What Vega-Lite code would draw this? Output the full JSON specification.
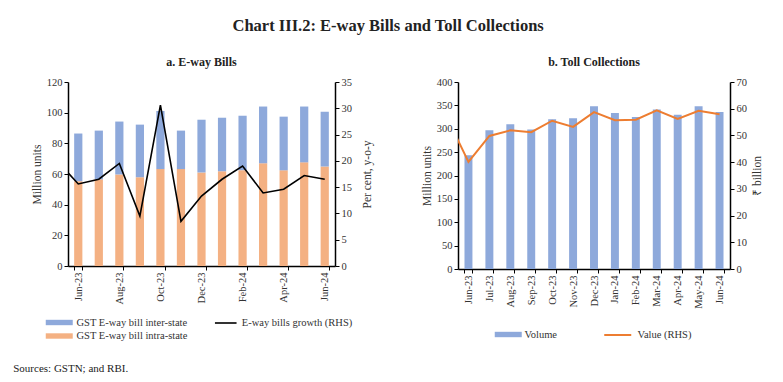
{
  "$schema": "https://vega.github.io/schema/vega-lite/v6.json",
  "padding": {"left": 13, "top": 17, "right": 10, "bottom": 2},
  "title": {"text": "Chart III.2: E-way Bills and Toll Collections", "fontSize": 16.5, "fontWeight": "bold", "font": "Liberation Serif", "color": "#222", "anchor": "middle", "offset": 22},
  "datasets": {
    "ewayBars": [
      {"month": "Jun-23", "series": "GST E-way bill intra-state", "value": 55.3},
      {"month": "Jun-23", "series": "GST E-way bill inter-state", "value": 31.1},
      {"month": "Jul-23", "series": "GST E-way bill intra-state", "value": 56.5},
      {"month": "Jul-23", "series": "GST E-way bill inter-state", "value": 31.8},
      {"month": "Aug-23", "series": "GST E-way bill intra-state", "value": 59.7},
      {"month": "Aug-23", "series": "GST E-way bill inter-state", "value": 34.5},
      {"month": "Sep-23", "series": "GST E-way bill intra-state", "value": 57.9},
      {"month": "Sep-23", "series": "GST E-way bill inter-state", "value": 34.3},
      {"month": "Oct-23", "series": "GST E-way bill intra-state", "value": 63.2},
      {"month": "Oct-23", "series": "GST E-way bill inter-state", "value": 37.9},
      {"month": "Nov-23", "series": "GST E-way bill intra-state", "value": 63.2},
      {"month": "Nov-23", "series": "GST E-way bill inter-state", "value": 25.1},
      {"month": "Dec-23", "series": "GST E-way bill intra-state", "value": 61.0},
      {"month": "Dec-23", "series": "GST E-way bill inter-state", "value": 34.4},
      {"month": "Jan-24", "series": "GST E-way bill intra-state", "value": 61.8},
      {"month": "Jan-24", "series": "GST E-way bill inter-state", "value": 34.9},
      {"month": "Feb-24", "series": "GST E-way bill intra-state", "value": 62.5},
      {"month": "Feb-24", "series": "GST E-way bill inter-state", "value": 35.5},
      {"month": "Mar-24", "series": "GST E-way bill intra-state", "value": 67.0},
      {"month": "Mar-24", "series": "GST E-way bill inter-state", "value": 37.0},
      {"month": "Apr-24", "series": "GST E-way bill intra-state", "value": 62.4},
      {"month": "Apr-24", "series": "GST E-way bill inter-state", "value": 35.0},
      {"month": "May-24", "series": "GST E-way bill intra-state", "value": 67.6},
      {"month": "May-24", "series": "GST E-way bill inter-state", "value": 36.4},
      {"month": "Jun-24", "series": "GST E-way bill intra-state", "value": 64.9},
      {"month": "Jun-24", "series": "GST E-way bill inter-state", "value": 35.7}
    ],
    "ewayGrowth": [
      {"month": "May-23", "growth": 19.9},
      {"month": "Jun-23", "growth": 15.6},
      {"month": "Jul-23", "growth": 16.5},
      {"month": "Aug-23", "growth": 19.5},
      {"month": "Sep-23", "growth": 9.5},
      {"month": "Oct-23", "growth": 30.6},
      {"month": "Nov-23", "growth": 8.5},
      {"month": "Dec-23", "growth": 13.3},
      {"month": "Jan-24", "growth": 16.5},
      {"month": "Feb-24", "growth": 19.0},
      {"month": "Mar-24", "growth": 13.9},
      {"month": "Apr-24", "growth": 14.6},
      {"month": "May-24", "growth": 17.2},
      {"month": "Jun-24", "growth": 16.5}
    ],
    "toll": [
      {"month": "May-23", "value": 56.3},
      {"month": "Jun-23", "volume": 243.4, "value": 40.1},
      {"month": "Jul-23", "volume": 296.8, "value": 49.8},
      {"month": "Aug-23", "volume": 309.6, "value": 51.9},
      {"month": "Sep-23", "volume": 298.2, "value": 51.2},
      {"month": "Oct-23", "volume": 320.3, "value": 55.5},
      {"month": "Nov-23", "volume": 322.4, "value": 53.2},
      {"month": "Dec-23", "volume": 348.0, "value": 58.7},
      {"month": "Jan-24", "volume": 333.8, "value": 55.7},
      {"month": "Feb-24", "volume": 325.3, "value": 55.9},
      {"month": "Mar-24", "volume": 341.0, "value": 59.4},
      {"month": "Apr-24", "volume": 330.2, "value": 56.2},
      {"month": "May-24", "volume": 348.0, "value": 59.2},
      {"month": "Jun-24", "volume": 336.0, "value": 57.9}
    ]
  },
  "vconcat": [
    {
      "title": {"text": "Sources: GSTN; and RBI.", "orient": "bottom", "anchor": "start", "fontSize": 11, "fontWeight": "normal", "color": "#222", "offset": 21, "dx": -18},
      "spacing": 48,
      "resolve": {"scale": {"fill": "independent", "stroke": "independent", "x": "independent", "y": "independent"}, "legend": {"fill": "independent", "stroke": "independent"}},
      "hconcat": [
        {
          "width": 267,
          "height": 184,
          "title": {"text": "a. E-way Bills", "fontSize": 12, "fontWeight": "bold", "color": "#222", "offset": 8},
          "layer": [
            {
              "data": {"name": "ewayBars"},
              "mark": {"type": "bar"},
              "encoding": {
                "x": {"field": "month", "type": "nominal", "sort": null,
                  "scale": {"domain": ["Jun-23","Jul-23","Aug-23","Sep-23","Oct-23","Nov-23","Dec-23","Jan-24","Feb-24","Mar-24","Apr-24","May-24","Jun-24"], "paddingInner": 0.6, "paddingOuter": 0.3, "round": false},
                  "axis": {"title": null, "values": ["Jun-23","Aug-23","Oct-23","Dec-23","Feb-24","Apr-24","Jun-24"], "labelAngle": -90, "tickBand": "extent"}},
                "y": {"field": "value", "type": "quantitative", "stack": "zero",
                  "scale": {"domain": [0, 120]},
                  "axis": {"title": "Million units", "values": [0,20,40,60,80,100,120]}},
                "fill": {"field": "series", "type": "nominal",
                  "scale": {"domain": ["GST E-way bill inter-state", "GST E-way bill intra-state"], "range": ["#8EA9DB", "#F4B183"]},
                  "legend": {"title": null, "orient": "none", "legendX": -16.25, "legendY": 233, "direction": "vertical", "symbolType": "M-2,-0.4H2V0.4H-2Z", "symbolSize": 182.25, "labelOffset": 9.75, "rowPadding": 0.5}},
                "order": {"field": "series", "sort": "descending"}
              }
            },
            {
              "data": {"name": "ewayGrowth"},
              "mark": {"type": "line", "clip": true, "strokeWidth": 1.6},
              "encoding": {
                "x": {"field": "month", "type": "nominal", "sort": null,
                  "scale": {"type": "point", "domain": ["May-23","Jun-23","Jul-23","Aug-23","Sep-23","Oct-23","Nov-23","Dec-23","Jan-24","Feb-24","Mar-24","Apr-24","May-24","Jun-24"], "padding": 0, "range": [-10.27, 256.73]},
                  "axis": null},
                "y": {"field": "growth", "type": "quantitative",
                  "scale": {"domain": [0, 35]},
                  "axis": {"orient": "right", "title": "Per cent, y-o-y", "titleAngle": 270, "titleBaseline": "top", "titlePadding": 10, "values": [0,5,10,15,20,25,30,35]}},
                "stroke": {"datum": "E-way bills growth (RHS)", "type": "nominal",
                  "scale": {"range": ["#000000"]},
                  "legend": {"title": null, "orient": "none", "legendX": 149.75, "legendY": 233, "symbolType": "M-1.6,0H1.6", "symbolSize": 182.25, "symbolStrokeWidth": 1.6, "labelOffset": 8}}
              }
            }
          ],
          "resolve": {"scale": {"x": "independent", "y": "independent"}}
        },
        {
          "width": 272,
          "height": 187,
          "title": {"text": "b. Toll Collections", "fontSize": 12, "fontWeight": "bold", "color": "#222", "offset": 8},
          "data": {"name": "toll"},
          "layer": [
            {
              "transform": [{"filter": "isValid(datum.volume)"}],
              "mark": {"type": "bar"},
              "encoding": {
                "x": {"field": "month", "type": "nominal", "sort": null,
                  "scale": {"domain": ["Jun-23","Jul-23","Aug-23","Sep-23","Oct-23","Nov-23","Dec-23","Jan-24","Feb-24","Mar-24","Apr-24","May-24","Jun-24"], "paddingInner": 0.62, "paddingOuter": 0.31, "round": false},
                  "axis": {"title": null, "labelAngle": -90, "tickBand": "extent"}},
                "y": {"field": "volume", "type": "quantitative",
                  "scale": {"domain": [0, 400]},
                  "axis": {"title": "Million units", "values": [0,50,100,150,200,250,300,350,400]}},
                "fill": {"datum": "Volume", "type": "nominal",
                  "scale": {"range": ["#8EA9DB"]},
                  "legend": {"title": null, "orient": "none", "legendX": 42.75, "legendY": 245, "symbolType": "M-2,-0.4H2V0.4H-2Z", "symbolSize": 182.25, "labelOffset": 8.75}}
              }
            },
            {
              "mark": {"type": "line", "clip": true, "strokeWidth": 2},
              "encoding": {
                "x": {"field": "month", "type": "nominal", "sort": null,
                  "scale": {"type": "point", "domain": ["May-23","Jun-23","Jul-23","Aug-23","Sep-23","Oct-23","Nov-23","Dec-23","Jan-24","Feb-24","Mar-24","Apr-24","May-24","Jun-24"], "padding": 0, "range": [-10.46, 261.54]},
                  "axis": null},
                "y": {"field": "value", "type": "quantitative",
                  "scale": {"domain": [0, 70]},
                  "axis": {"orient": "right", "title": "₹ billion", "titleAngle": 270, "titleBaseline": "top", "titlePadding": 5, "values": [0,10,20,30,40,50,60,70]}},
                "stroke": {"datum": "Value (RHS)", "type": "nominal",
                  "scale": {"range": ["#ED7D31"]},
                  "legend": {"title": null, "orient": "none", "legendX": 151.75, "legendY": 245, "symbolType": "M-2,0H2", "symbolSize": 182.25, "symbolStrokeWidth": 2, "labelOffset": 11.75}}
              }
            }
          ],
          "resolve": {"scale": {"x": "independent", "y": "independent"}}
        }
      ]
    }
  ],
  "config": {
    "font": "Liberation Serif",
    "view": {"stroke": null},
    "title": {"font": "Liberation Serif"},
    "axis": {"grid": false, "domainColor": "#000", "domainWidth": 1.5, "tickColor": "#000", "tickSize": 4, "labelColor": "#333", "labelFont": "Liberation Serif", "labelFontSize": 10.5, "titleFont": "Liberation Serif", "titleFontSize": 11.5, "titleFontWeight": "normal", "titleColor": "#333"},
    "legend": {"labelFont": "Liberation Serif", "labelFontSize": 10.5, "labelColor": "#333", "padding": 0}
  }
}
